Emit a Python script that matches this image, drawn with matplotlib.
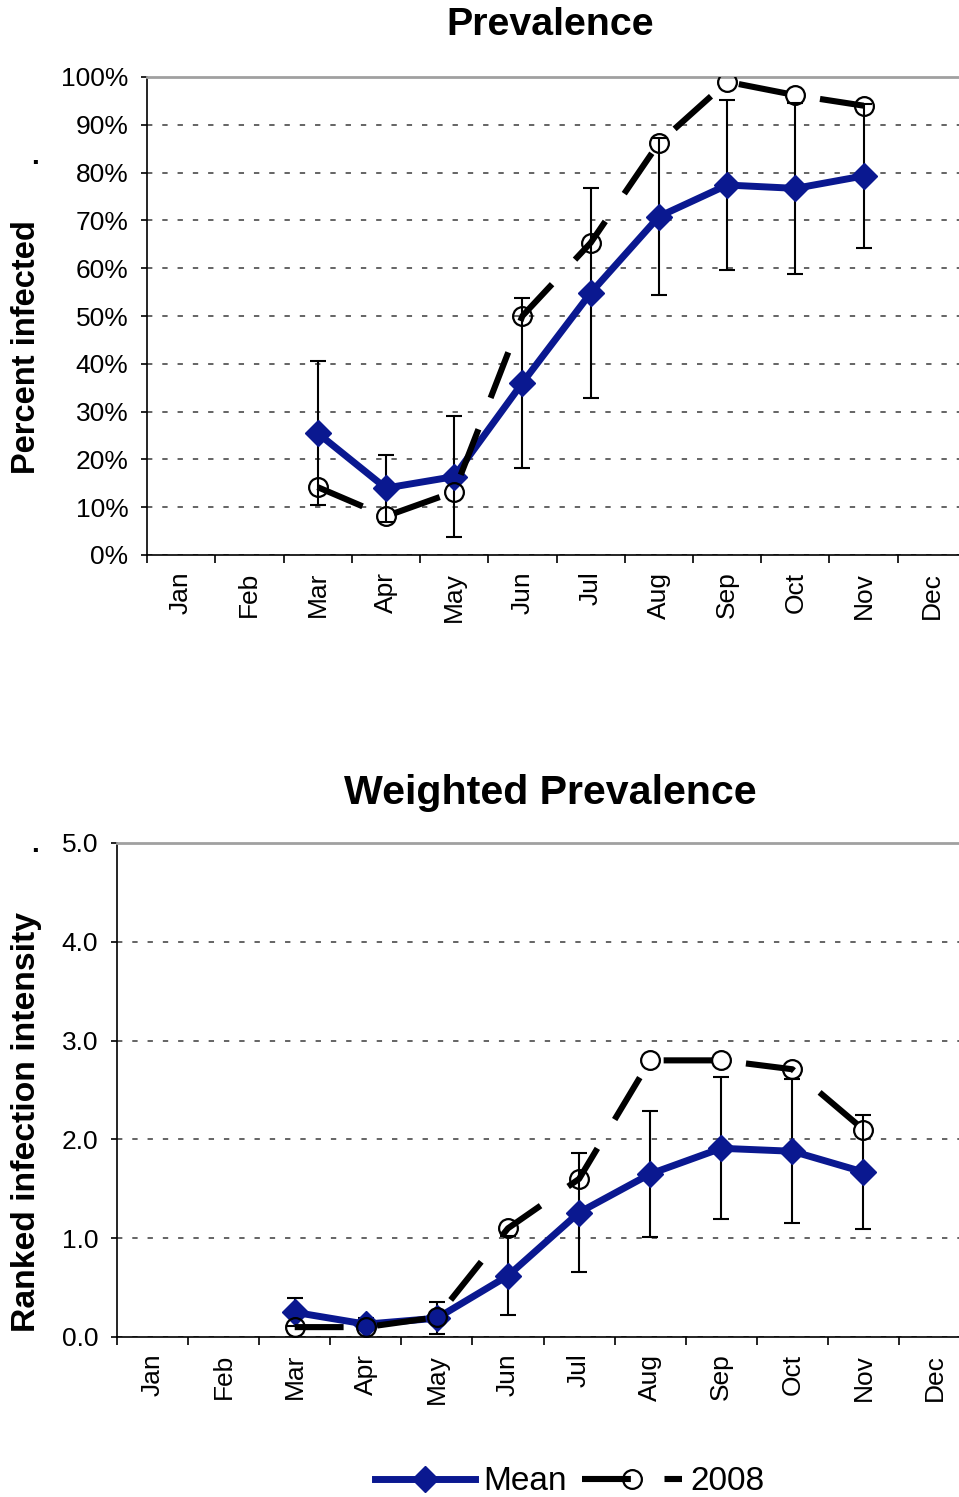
"""
Prevalence / Weighted Prevalence por mes (media +/- erro e serie 2008).
Gera out.png (959x1497).
"""
import numpy as np
import matplotlib
matplotlib.use("Agg")
import matplotlib.pyplot as plt
from matplotlib.ticker import PercentFormatter, FormatStrFormatter

plt.rcParams["font.family"] = ["Liberation Sans", "DejaVu Sans"]

MONTHS = ["Jan", "Feb", "Mar", "Apr", "May", "Jun",
          "Jul", "Aug", "Sep", "Oct", "Nov", "Dec"]
DATA_MONTHS = ["Mar", "Apr", "May", "Jun", "Jul", "Aug", "Sep", "Oct", "Nov"]

# Prevalence (%)
PREV_MEAN = [25.5, 14.0, 16.4, 36.0, 54.8, 70.8, 77.4, 76.7, 79.3]
PREV_ERR = [15.0, 7.0, 12.6, 17.7, 22.0, 16.4, 17.7, 17.9, 15.0]
PREV_2008 = [14.2, 8.1, 13.2, 50.0, 65.3, 86.2, 99.0, 96.2, 94.0]

# Weighted prevalence (ranked infection intensity)
WPREV_MEAN = [0.25, 0.13, 0.19, 0.62, 1.26, 1.65, 1.91, 1.88, 1.67]
WPREV_ERR = [0.14, 0.06, 0.16, 0.40, 0.60, 0.64, 0.72, 0.73, 0.58]
WPREV_2008 = [0.10, 0.10, 0.20, 1.10, 1.60, 2.80, 2.80, 2.71, 2.10]

BLUE = "#0a1890"
W, H = 959, 1497


def panel(ax, mean, err, y08, yticks, fmt):
    x = [MONTHS.index(m) for m in DATA_MONTHS]
    ax.errorbar(x, mean, yerr=err, fmt="none", ecolor="black", elinewidth=1.5,
                capsize=5.8, capthick=1.5, zorder=2)
    ax.plot(x, mean, color=BLUE, lw=5, marker="D", markersize=13,
            markerfacecolor=BLUE, markeredgecolor=BLUE, zorder=3, label="Mean")
    ax.plot(x, y08, color="black", lw=4.4, linestyle=(0, (8, 5.5)),
            marker="o", markersize=13.5, markerfacecolor="none",
            markeredgecolor="black", markeredgewidth=1.6, zorder=4, label="2008")

    ax.set_xlim(-0.5, 11.5)
    ax.set_ylim(yticks[0], yticks[-1])
    ax.set_xticks(range(12))
    ax.set_xticklabels(MONTHS, rotation=90, fontsize=19)
    ax.set_xticks(np.arange(-0.5, 12, 1), minor=True)
    ax.tick_params(axis="x", which="major", length=0, pad=12)
    ax.tick_params(axis="x", which="minor", length=6, width=1.2)
    ax.set_yticks(yticks)
    ax.yaxis.set_major_formatter(fmt)
    ax.tick_params(axis="y", length=4.5, width=1.2, labelsize=19, pad=9)

    ax.yaxis.grid(True, linestyle=(0, (3.5, 6.5)), color="#3a3a3a", linewidth=1.1)
    ax.spines["right"].set_visible(False)
    ax.spines["top"].set_color("#a0a0a0")
    ax.spines["top"].set_linewidth(2)
    ax.spines["left"].set_linewidth(1.2)
    ax.spines["bottom"].set_linewidth(1.2)


fig = plt.figure(figsize=(W / 100, H / 100), dpi=100)

ax1 = fig.add_axes([147 / W, 1 - 555 / H, (966 - 147) / W, (555 - 77) / H])
panel(ax1, PREV_MEAN, PREV_ERR, PREV_2008, list(range(0, 101, 10)),
      PercentFormatter(decimals=0))

ax2 = fig.add_axes([117 / W, 1 - 1337 / H, (970 - 117) / W, (1337 - 843) / H])
panel(ax2, WPREV_MEAN, WPREV_ERR, WPREV_2008, [0, 1, 2, 3, 4, 5],
      FormatStrFormatter("%.1f"))

fig.text(550 / W, 1 - 25 / H, "Prevalence", ha="center", va="center",
         fontsize=28.4, fontweight="bold")
fig.text(550 / W, 1 - 793 / H, "Weighted Prevalence", ha="center", va="center",
         fontsize=29.6, fontweight="bold")
fig.text(27 / W, 1 - 347 / H, "Percent infected", ha="center", va="center",
         rotation=90, fontsize=23.5, fontweight="bold")
fig.text(27 / W, 1 - 1122 / H, "Ranked infection intensity", ha="center",
         va="center", rotation=90, fontsize=24.3, fontweight="bold")
fig.text(35 / W, 1 - 157 / H, ".", ha="center", va="center", fontsize=20,
         fontweight="bold")
fig.text(35 / W, 1 - 845 / H, ".", ha="center", va="center", fontsize=20,
         fontweight="bold")

handles, labels = ax2.get_legend_handles_labels()
fig.legend(handles, labels, loc="center", bbox_to_anchor=(570 / W, 1 - 1482 / H),
           ncol=2, frameon=False, fontsize=24, handlelength=3.0,
           handletextpad=0.25, columnspacing=0.45, borderpad=0)

fig.savefig("out.png", dpi=100)
